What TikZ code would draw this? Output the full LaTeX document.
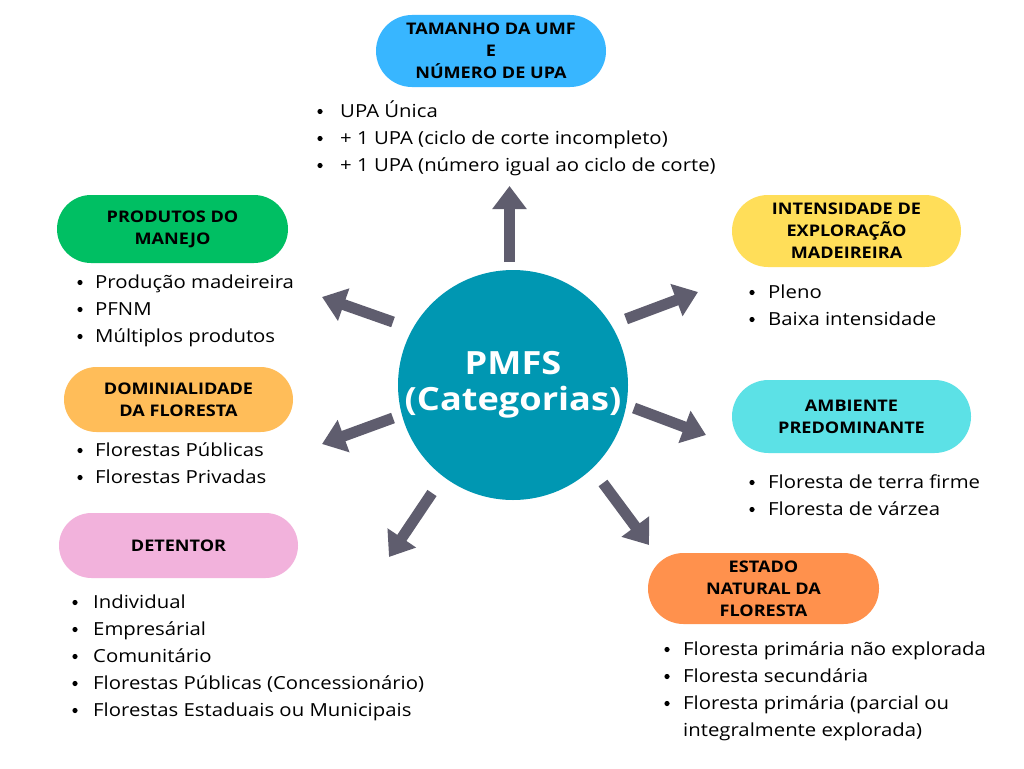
\documentclass[tikz,border=0pt]{standalone}
\usepackage{fontspec}
\setmainfont{Open Sans}[FakeStretch=1.13]
\usetikzlibrary{arrows.meta}
\definecolor{circc}{RGB}{0,151,178}
\definecolor{pblue}{RGB}{56,182,255}
\definecolor{pgreen}{RGB}{0,191,99}
\definecolor{porange}{RGB}{255,189,89}
\definecolor{ppink}{RGB}{242,178,220}
\definecolor{pyellow}{RGB}{255,222,89}
\definecolor{pcyan}{RGB}{92,225,230}
\definecolor{pdeep}{RGB}{255,145,77}
\definecolor{arrowc}{RGB}{95,93,110}
\newcommand\bl[5]{%
  \fill (#2,#4-5.5) circle (2.6);
  \node[item] (#1) at (#3,#4) {#5};}
\begin{document}
\begin{tikzpicture}[x=1pt,y=-1pt,
  pill/.style={rectangle, align=center, inner sep=0pt,
    font=\fontsize{16}{22}\selectfont\bfseries},
  item/.style={anchor=base west, inner sep=0pt,
    font=\fontsize{18}{22}\selectfont},
  arr/.style={draw=arrowc, line width=11pt,
    -{Triangle[width=33pt,length=23pt]}}]
\useasboundingbox[fill=white] (0,0) rectangle (1024,768);

% centre
\node[circle, fill=circc, minimum size=230pt, inner sep=0pt, align=center,
  text=white, font=\fontsize{32}{36}\selectfont\bfseries] (c) at (513,385)
  {PMFS\\(Categorias)};

% pills
\node[pill, fill=pblue, minimum width=230pt, minimum height=72pt, rounded corners=36pt]
  (top) at (491,51) {TAMANHO DA UMF\\E\\NÚMERO DE UPA};
\node[pill, fill=pgreen, minimum width=231pt, minimum height=68pt, rounded corners=34pt]
  (prod) at (172.5,229) {PRODUTOS DO\\MANEJO};
\node[pill, fill=porange, minimum width=229pt, minimum height=65pt, rounded corners=32.5pt]
  (dom) at (178.5,399.5) {DOMINIALIDADE\\DA FLORESTA};
\node[pill, fill=ppink, minimum width=239pt, minimum height=65pt, rounded corners=32.5pt]
  (det) at (178.5,545.5) {DETENTOR};
\node[pill, fill=pyellow, minimum width=229pt, minimum height=72pt, rounded corners=36pt]
  (int) at (846.5,231) {INTENSIDADE DE\\EXPLORAÇÃO\\MADEIREIRA};
\node[pill, fill=pcyan, minimum width=239pt, minimum height=73pt, rounded corners=36.5pt]
  (amb) at (851.5,416.5) {AMBIENTE\\PREDOMINANTE};
\node[pill, fill=pdeep, minimum width=231pt, minimum height=71pt, rounded corners=35.5pt]
  (est) at (763.5,588.5) {ESTADO\\NATURAL DA\\FLORESTA};

% arrows
\coordinate (a1s) at (509.5,262); \coordinate (a1e) at (509.5,186);
\coordinate (a2s) at (393,322);   \coordinate (a2e) at (322,297);
\coordinate (a3s) at (393,418);   \coordinate (a3e) at (322,444);
\coordinate (a4s) at (432,493);   \coordinate (a4e) at (389,557);
\coordinate (a5s) at (626,319);   \coordinate (a5e) at (698,292);
\coordinate (a6s) at (634,408);   \coordinate (a6e) at (706,435);
\coordinate (a7s) at (603,483);   \coordinate (a7e) at (649,545);
\foreach \i in {1,...,7} \draw[arr] (a\i s) -- (a\i e);

% lists
\bl{t1}{320}{340}{117}{UPA Única}
\bl{t2}{320}{340}{144}{+ 1 UPA (ciclo de corte incompleto)}
\bl{t3}{320}{340}{171}{+ 1 UPA (número igual ao ciclo de corte)}

\bl{p1}{80}{95}{288}{Produção madeireira}
\bl{p2}{80}{95}{315}{PFNM}
\bl{p3}{80}{95}{342}{Múltiplos produtos}

\bl{d1}{80}{95}{456}{Florestas Públicas}
\bl{d2}{80}{95}{483}{Florestas Privadas}

\bl{e1}{75}{93}{608}{Individual}
\bl{e2}{75}{93}{635}{Empresárial}
\bl{e3}{75}{93}{662}{Comunitário}
\bl{e4}{75}{93}{689}{Florestas Públicas (Concessionário)}
\bl{e5}{75}{93}{716}{Florestas Estaduais ou Municipais}

\bl{i1}{752}{768}{298}{Pleno}
\bl{i2}{752}{768}{325}{Baixa intensidade}

\bl{m1}{752}{768}{488}{Floresta de terra firme}
\bl{m2}{752}{768}{515}{Floresta de várzea}

\bl{s1}{667}{683}{655}{Floresta primária não explorada}
\bl{s2}{667}{683}{682}{Floresta secundária}
\bl{s3}{667}{683}{709}{Floresta primária (parcial ou}
\node[item] (s4) at (683,736) {integralmente explorada)};
\end{tikzpicture}
\end{document}
